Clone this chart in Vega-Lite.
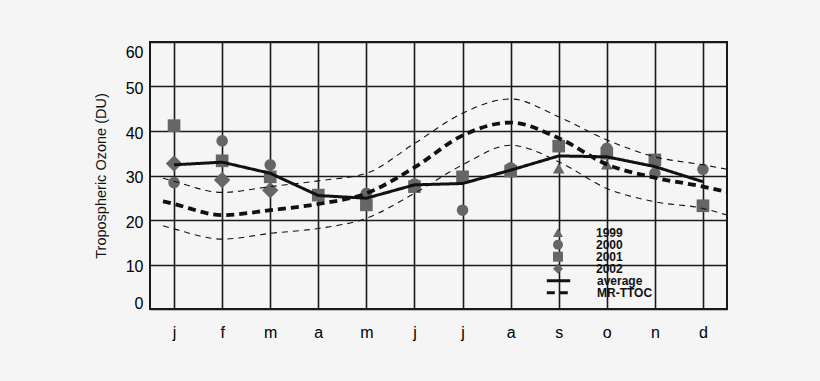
{
  "$schema": "https://vega.github.io/schema/vega-lite/v6.json",
  "width": 577,
  "height": 267,
  "autosize": {"type": "none"},
  "padding": {"left": 150, "top": 42, "right": 93, "bottom": 72},
  "background": "#f5f5f5",
  "config": {
    "font": "Liberation Sans",
    "view": {"stroke": "#1a1a1a", "strokeWidth": 2, "fill": "#f5f5f5"},
    "axis": {
      "domain": false,
      "ticks": false,
      "grid": true,
      "gridColor": "#1a1a1a",
      "gridWidth": 1.6,
      "gridOpacity": 1,
      "labelFont": "Liberation Sans",
      "labelFontSize": 16,
      "labelColor": "#000",
      "titleFont": "Liberation Sans",
      "titleFontSize": 14.5,
      "titleFontWeight": "normal",
      "titleColor": "#111"
    },
    "legend": {
      "title": null,
      "padding": 0,
      "labelFont": "Liberation Sans",
      "labelFontSize": 12,
      "labelFontWeight": "bold",
      "labelColor": "#111",
      "rowPadding": 0
    }
  },
  "datasets": {
    "points": [
      {"month": 9, "value": 31.6, "series": "1999"},
      {"month": 10, "value": 32.5, "series": "1999"},
      {"month": 1, "value": 28.4, "series": "2000"},
      {"month": 2, "value": 37.8, "series": "2000"},
      {"month": 3, "value": 32.4, "series": "2000"},
      {"month": 5, "value": 26.0, "series": "2000"},
      {"month": 6, "value": 28.1, "series": "2000"},
      {"month": 7, "value": 22.2, "series": "2000"},
      {"month": 8, "value": 31.7, "series": "2000"},
      {"month": 10, "value": 36.1, "series": "2000"},
      {"month": 11, "value": 30.5, "series": "2000"},
      {"month": 12, "value": 31.4, "series": "2000"},
      {"month": 1, "value": 41.2, "series": "2001"},
      {"month": 2, "value": 33.3, "series": "2001"},
      {"month": 3, "value": 29.7, "series": "2001"},
      {"month": 4, "value": 25.6, "series": "2001"},
      {"month": 5, "value": 23.4, "series": "2001"},
      {"month": 6, "value": 27.5, "series": "2001"},
      {"month": 7, "value": 29.7, "series": "2001"},
      {"month": 8, "value": 31.0, "series": "2001"},
      {"month": 9, "value": 36.6, "series": "2001"},
      {"month": 10, "value": 35.0, "series": "2001"},
      {"month": 11, "value": 33.5, "series": "2001"},
      {"month": 12, "value": 23.2, "series": "2001"},
      {"month": 1, "value": 32.7, "series": "2002"},
      {"month": 2, "value": 29.0, "series": "2002"},
      {"month": 3, "value": 26.7, "series": "2002"}
    ],
    "lines": [
      {"month": 1, "value": 32.4, "series": "average"},
      {"month": 2, "value": 33.0, "series": "average"},
      {"month": 3, "value": 30.5, "series": "average"},
      {"month": 4, "value": 25.5, "series": "average"},
      {"month": 5, "value": 24.9, "series": "average"},
      {"month": 6, "value": 27.9, "series": "average"},
      {"month": 7, "value": 28.2, "series": "average"},
      {"month": 8, "value": 31.2, "series": "average"},
      {"month": 9, "value": 34.4, "series": "average"},
      {"month": 10, "value": 34.2, "series": "average"},
      {"month": 11, "value": 32.0, "series": "average"},
      {"month": 12, "value": 28.6, "series": "average"},
      {"month": 0.77, "value": 24.2, "series": "MR-TTOC"},
      {"month": 1, "value": 23.6, "series": "MR-TTOC"},
      {"month": 2, "value": 21.1, "series": "MR-TTOC"},
      {"month": 3, "value": 22.2, "series": "MR-TTOC"},
      {"month": 4, "value": 23.6, "series": "MR-TTOC"},
      {"month": 5, "value": 26.0, "series": "MR-TTOC"},
      {"month": 6, "value": 31.8, "series": "MR-TTOC"},
      {"month": 7, "value": 39.0, "series": "MR-TTOC"},
      {"month": 8, "value": 41.9, "series": "MR-TTOC"},
      {"month": 9, "value": 38.4, "series": "MR-TTOC"},
      {"month": 10, "value": 32.5, "series": "MR-TTOC"},
      {"month": 11, "value": 29.5, "series": "MR-TTOC"},
      {"month": 12, "value": 27.5, "series": "MR-TTOC"},
      {"month": 12.5, "value": 26.3, "series": "MR-TTOC"},
      {"month": 0.77, "value": 29.4, "series": "upper"},
      {"month": 1, "value": 28.7, "series": "upper"},
      {"month": 2, "value": 26.2, "series": "upper"},
      {"month": 3, "value": 27.5, "series": "upper"},
      {"month": 4, "value": 28.8, "series": "upper"},
      {"month": 5, "value": 30.5, "series": "upper"},
      {"month": 6, "value": 37.2, "series": "upper"},
      {"month": 7, "value": 44.0, "series": "upper"},
      {"month": 8, "value": 47.2, "series": "upper"},
      {"month": 9, "value": 43.2, "series": "upper"},
      {"month": 10, "value": 38.0, "series": "upper"},
      {"month": 11, "value": 34.2, "series": "upper"},
      {"month": 12, "value": 32.4, "series": "upper"},
      {"month": 12.5, "value": 31.4, "series": "upper"},
      {"month": 0.77, "value": 18.7, "series": "lower"},
      {"month": 1, "value": 18.0, "series": "lower"},
      {"month": 2, "value": 15.7, "series": "lower"},
      {"month": 3, "value": 17.0, "series": "lower"},
      {"month": 4, "value": 18.1, "series": "lower"},
      {"month": 5, "value": 20.4, "series": "lower"},
      {"month": 6, "value": 26.0, "series": "lower"},
      {"month": 7, "value": 32.4, "series": "lower"},
      {"month": 8, "value": 36.8, "series": "lower"},
      {"month": 9, "value": 33.1, "series": "lower"},
      {"month": 10, "value": 27.1, "series": "lower"},
      {"month": 11, "value": 24.1, "series": "lower"},
      {"month": 12, "value": 22.6, "series": "lower"},
      {"month": 12.5, "value": 21.1, "series": "lower"}
    ]
  },
  "encoding": {
    "x": {
      "field": "month",
      "type": "quantitative",
      "scale": {"domain": [0.5, 12.5], "nice": false, "zero": false},
      "axis": {
        "title": null,
        "values": [1, 2, 3, 4, 5, 6, 7, 8, 9, 10, 11, 12],
        "labelExpr": "['j','f','m','a','m','j','j','a','s','o','n','d'][datum.value - 1]",
        "labelPadding": 15,
        "labelBaseline": "top"
      }
    },
    "y": {
      "field": "value",
      "type": "quantitative",
      "scale": {"domain": [0, 60], "nice": false},
      "axis": {
        "title": "Tropospheric Ozone (DU)",
        "values": [0, 10, 20, 30, 40, 50, 60],
        "labelPadding": 7,
        "labelOffset": 2,
        "labelFlush": true,
        "titlePadding": 17
      }
    }
  },
  "layer": [
    {
      "data": {"values": [{}]},
      "mark": {"type": "rect", "fill": "white", "stroke": "#555555", "strokeWidth": 1.5},
      "encoding": {
        "x": {"datum": 8.09, "type": "quantitative"},
        "x2": {"datum": 11.46},
        "y": {"datum": 19.6, "type": "quantitative"},
        "y2": {"datum": 0.75}
      }
    },
    {
      "data": {"name": "points"},
      "mark": {"type": "point", "filled": true, "opacity": 1, "color": "#666666", "strokeWidth": 0},
      "encoding": {
        "shape": {
          "field": "series",
          "type": "nominal",
          "scale": {
            "domain": ["1999", "2000", "2001", "2002"],
            "range": ["triangle-up", "circle", "square", "diamond"]
          },
          "legend": {
            "orient": "none",
            "legendX": 402,
            "legendY": 184.7,
            "symbolSize": 100,
            "symbolStrokeWidth": 0,
            "symbolOffset": 0,
            "labelOffset": 32
          }
        },
        "size": {
          "condition": [
            {"test": "datum.series == '2002'", "value": 270},
            {"test": "datum.series == '2001'", "value": 160}
          ],
          "value": 135
        }
      }
    },
    {
      "data": {"name": "lines"},
      "transform": [{"filter": "datum.series == 'upper' || datum.series == 'lower'"}],
      "mark": {"type": "line", "interpolate": "monotone", "color": "#111111", "strokeWidth": 1.1, "strokeDash": [6, 5]},
      "encoding": {"detail": {"field": "series", "type": "nominal"}}
    },
    {
      "data": {"name": "lines"},
      "transform": [{"filter": "datum.series == 'MR-TTOC'"}],
      "mark": {"type": "line", "interpolate": "monotone", "color": "#111111", "strokeWidth": 3.8},
      "encoding": {
        "strokeDash": {
          "field": "series",
          "type": "nominal",
          "scale": {"domain": ["average", "MR-TTOC"], "range": [[1, 0], [8, 5]]},
          "legend": {
            "orient": "none",
            "legendX": 402.5,
            "legendY": 232.7,
            "symbolType": "M-2.6,0H2.6",
            "symbolSize": 81,
            "symbolStrokeWidth": 3,
            "symbolStrokeColor": "#111111",
            "symbolOffset": 0,
            "labelOffset": 32.5
          }
        }
      }
    },
    {
      "data": {"name": "lines"},
      "transform": [{"filter": "datum.series == 'average'"}],
      "mark": {"type": "line", "color": "#111111", "strokeWidth": 3},
      "encoding": {
        "strokeDash": {"field": "series", "type": "nominal"}
      }
    }
  ]
}
